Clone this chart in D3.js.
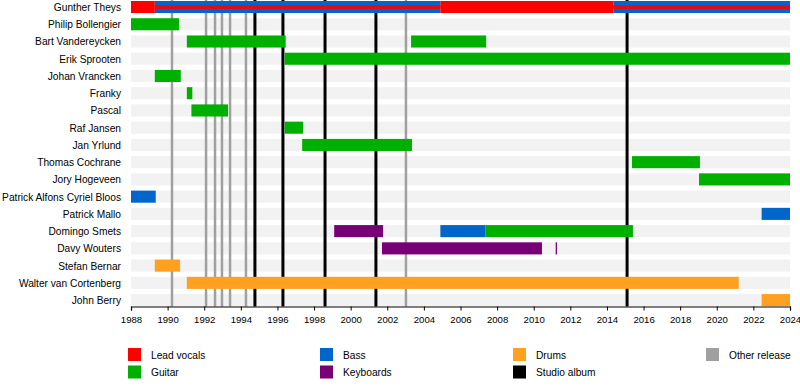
<!DOCTYPE html>
<html>
  <head>
    <script type="text/javascript" src="https://cdn.jsdelivr.net/npm/d3@7"></script>
    <style>
      body { margin: 0; background: #fff; }
      text { font-family: "Liberation Sans", Arial, sans-serif; font-size: 10.2px; fill: #000; }
    </style>
  </head>
  <body>
    <script type="text/javascript">
      WIDTH = 800
      HEIGHT = 386

      // members, top to bottom
      var members = ["Gunther Theys", "Philip Bollengier", "Bart Vandereycken", "Erik Sprooten",
        "Johan Vrancken", "Franky", "Pascal", "Raf Jansen", "Jan Yrlund", "Thomas Cochrane",
        "Jory Hogeveen", "Patrick Alfons Cyriel Bloos", "Patrick Mallo", "Domingo Smets",
        "Davy Wouters", "Stefan Bernar", "Walter van Cortenberg", "John Berry"]

      // [member, from, to] in years
      var vocals = [["Gunther Theys", 1988, 1989.3], ["Gunther Theys", 2004.9, 2014.35]]
      var vocalsStripe = [["Gunther Theys", 1989.3, 2004.9], ["Gunther Theys", 2014.35, 2024]]
      var bass = [["Gunther Theys", 1989.3, 2004.9], ["Gunther Theys", 2014.35, 2024],
        ["Patrick Alfons Cyriel Bloos", 1988, 1989.35], ["Patrick Mallo", 2022.45, 2024],
        ["Domingo Smets", 2004.9, 2007.35]]
      var guitar = [["Philip Bollengier", 1988, 1990.62], ["Bart Vandereycken", 1991.05, 1996.45],
        ["Bart Vandereycken", 2003.3, 2007.4], ["Erik Sprooten", 1996.4, 2024],
        ["Johan Vrancken", 1989.3, 1990.72], ["Franky", 1991.05, 1991.35], ["Pascal", 1991.3, 1993.3],
        ["Raf Jansen", 1996.4, 1997.4], ["Jan Yrlund", 1997.35, 2003.35],
        ["Thomas Cochrane", 2015.37, 2019.08], ["Jory Hogeveen", 2019.03, 2024],
        ["Domingo Smets", 2007.35, 2015.42]]
      var keyboards = [["Domingo Smets", 1999.1, 2001.77], ["Davy Wouters", 2001.71, 2010.45],
        ["Davy Wouters", 2011.2, 2011.27]]
      var drums = [["Stefan Bernar", 1989.3, 1990.68], ["Walter van Cortenberg", 1991.05, 2021.2],
        ["John Berry", 2022.45, 2024]]

      // release markers
      var studioAlbums = [1994.77, 1996.3, 1998.6, 2001.38, 2015.1]
      var otherReleases = [1990.24, 1992.1, 1992.59, 1992.97, 1993.41, 1994.28, 2003.02]
      var tickYears = d3.range(1988, 2025, 2)

      var legendItems = [["Lead vocals", "#ff0000"], ["Guitar", "#00b000"], ["Bass", "#0066cc"],
        ["Keyboards", "#770077"], ["Drums", "#ffa020"], ["Studio album", "#000000"],
        ["Other release", "#a0a0a0"]]

      var svg = d3.select("body").append("svg")
        .attr("width", WIDTH)
        .attr("height", HEIGHT)

      // scales
      var x = d3.scaleLinear().domain([1988, 2024]).range([131, 790])
      var y = d3.scaleBand().domain(members).range([-1.6, 308.7])
        .paddingInner(0.3).paddingOuter(0.15)
      var AXIS_Y = 306.5

      // row stripes
      svg.selectAll("rect.stripe").data(members).enter().append("rect")
        .attr("x", x(1988)).attr("width", x(2024) - x(1988))
        .attr("y", function(d) { return y(d) }).attr("height", y.bandwidth())
        .attr("fill", "#f2f2f2")

      // release lines (behind bars)
      function markers(list, color, w) {
        svg.selectAll(null).data(list).enter().append("line")
          .attr("x1", function(d) { return x(d) }).attr("x2", function(d) { return x(d) })
          .attr("y1", 0).attr("y2", AXIS_Y)
          .attr("stroke", color).attr("stroke-width", w)
      }
      markers(otherReleases, "#a0a0a0", 2.5)
      markers(studioAlbums, "#000000", 3)

      // bars
      function bars(list, color) {
        svg.selectAll(null).data(list).enter().append("rect")
          .attr("x", function(d) { return x(d[1]) })
          .attr("width", function(d) { return Math.max(1, x(d[2]) - x(d[1])) })
          .attr("y", function(d) { return y(d[0]) })
          .attr("height", y.bandwidth())
          .attr("fill", color)
      }
      bars(bass, "#0066cc")
      bars(guitar, "#00b000")
      bars(keyboards, "#770077")
      bars(drums, "#ffa020")
      bars(vocals, "#ff0000")

      // thin vocal stripe over the bass bar
      svg.selectAll(null).data(vocalsStripe).enter().append("rect")
        .attr("x", function(d) { return x(d[1]) })
        .attr("width", function(d) { return x(d[2]) - x(d[1]) })
        .attr("y", function(d) { return y(d[0]) + y.bandwidth() / 2 - 1.8 })
        .attr("height", 3.6)
        .attr("fill", "#ff0000")

      // member names
      svg.selectAll("text.name").data(members).enter().append("text")
        .attr("x", 121)
        .attr("y", function(d) { return y(d) + y.bandwidth() / 2 + 4 })
        .attr("text-anchor", "end")
        .text(function(d) { return d })

      // x axis
      var axis = d3.axisBottom(x).tickValues(tickYears).tickFormat(d3.format("d"))
        .tickSize(4).tickPadding(6)
      var g = svg.append("g").attr("transform", "translate(0," + AXIS_Y + ")").call(axis)
      g.select(".domain").attr("stroke", "#000").attr("stroke-width", 1.2)
      g.selectAll(".tick line").attr("stroke", "#000")
      g.selectAll(".tick text").style("font-family", "Liberation Sans, Arial, sans-serif")
        .style("font-size", "9.6px")

      // legend, two rows per column
      var legCols = [128, 320, 513, 706]
      var leg = svg.selectAll("g.leg").data(legendItems).enter().append("g")
        .attr("transform", function(d, i) {
          var col = i < 6 ? Math.floor(i / 2) : 3
          var row = i < 6 ? i % 2 : 0
          return "translate(" + legCols[col] + "," + (348 + row * 17.5) + ")"
        })
      leg.append("rect").attr("width", 13).attr("height", 13)
        .attr("fill", function(d) { return d[1] })
      leg.append("text").attr("x", 23).attr("y", 10.5)
        .text(function(d) { return d[0] })
    </script>
  </body>
</html>
